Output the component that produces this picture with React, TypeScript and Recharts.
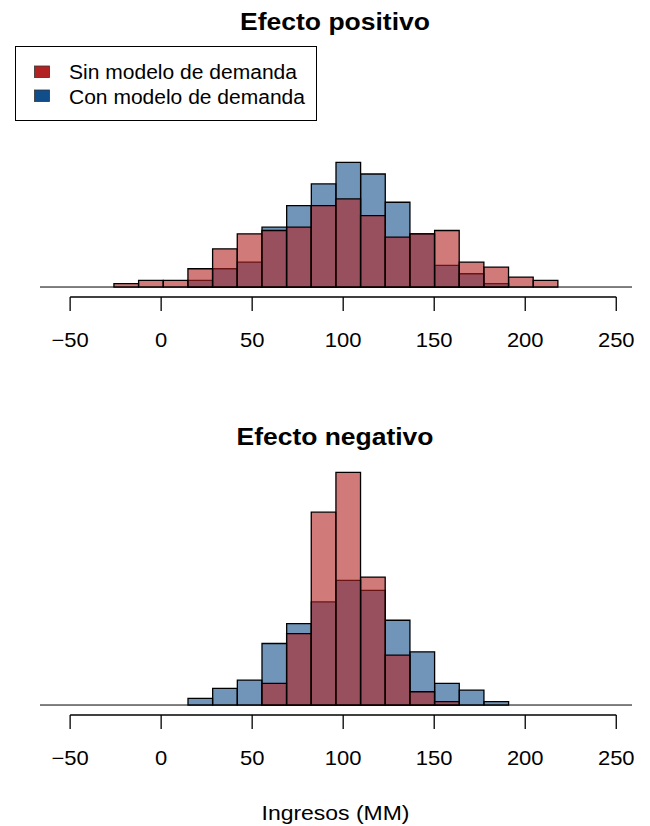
import React from "react"
import { ComposedChart, Bar, XAxis, YAxis, ReferenceLine } from "recharts"

// histogram bins (Ingresos MM), width ~13.55
const binMids = [-59.8, -46.2, -32.7, -19.1, -5.6, 8.0, 21.5, 35.1, 48.6, 62.2, 75.7, 89.3,
  102.8, 116.4, 129.9, 143.5, 157.0, 170.6, 184.1, 197.7, 211.2, 224.8, 238.3, 251.9]
const binRange = [-66.55, 258.65]
const xTicks = [-50, 0, 50, 100, 150, 200, 250]

// counts per bin
const positivoSin = [0, 0, 0, 2, 4, 4, 11, 23, 32, 34, 36, 49, 53, 43, 30, 32, 34, 15, 12, 6, 4, 0, 0, 0]
const positivoCon = [0, 0, 0, 0, 0, 0, 4, 11, 15, 36, 49, 62, 75, 68, 51, 32, 13, 8, 2, 0, 0, 0, 0, 0]
const negativoSin = [0, 0, 0, 0, 0, 0, 0, 0, 0, 13, 43, 116, 140, 77, 30, 8, 2, 0, 0, 0, 0, 0, 0, 0]
const negativoCon = [0, 0, 0, 0, 0, 0, 4, 10, 15, 37, 49, 62, 75, 69, 51, 32, 13, 9, 2, 0, 0, 0, 0, 0]

const yDomain = [-6, 145]

const FONT = '"Liberation Sans", Arial, Helvetica, sans-serif'
const RED = "#b22222"
const BLUE = "#104e8b"

const fmt = (v: number) => (v < 0 ? "\u2212" + Math.abs(v) : String(v))

const Tick = (props: any) => {
  const { x, y, payload } = props
  return (
    <text
      transform={`translate(${x} ${y}) scale(1.1 1)`}
      dy="0.71em"
      textAnchor="middle"
      fontSize={20}
      fontFamily={FONT}
      fill="#000"
    >
      {fmt(payload.value)}
    </text>
  )
}

const Histogram = ({ sin, con }: { sin: number[], con: number[] }) => {
  const data = binMids.map((mid, i) => ({ mid, sin: sin[i], con: con[i] }))
  return (
    <ComposedChart
      width={650}
      height={357}
      data={data}
      margin={{ top: 46, right: 18, bottom: 0, left: 40 }}
      barGap="-100%"
      barCategoryGap={0}
    >
      <XAxis xAxisId="bins" dataKey="mid" type="category" hide height={0} />
      <XAxis
        xAxisId="num"
        dataKey="mid"
        type="number"
        domain={binRange}
        allowDataOverflow
        ticks={xTicks}
        interval={0}
        axisLine={false}
        tickLine={{ stroke: "#000", strokeWidth: 1.3 }}
        tickSize={14}
        tickMargin={22}
        tick={<Tick />}
        height={60}
      />
      <YAxis type="number" domain={yDomain} allowDataOverflow hide />
      <Bar xAxisId="bins" dataKey="con" fill={BLUE} fillOpacity={0.6} stroke="#000" strokeWidth={1.3} barSize={24.6} isAnimationActive={false} />
      <Bar xAxisId="bins" dataKey="sin" fill={RED} fillOpacity={0.6} stroke="#000" strokeWidth={1.3} barSize={24.6} isAnimationActive={false} />
      <ReferenceLine
        xAxisId="num"
        segment={[{ x: binRange[0], y: 0 }, { x: binRange[1], y: 0 }]}
        stroke="#000"
        strokeWidth={1}
        ifOverflow="visible"
      />
      <ReferenceLine
        xAxisId="num"
        segment={[{ x: xTicks[0], y: yDomain[0] }, { x: xTicks[xTicks.length - 1], y: yDomain[0] }]}
        stroke="#000"
        strokeWidth={1.4}
        ifOverflow="visible"
      />
    </ComposedChart>
  )
}

export default function App() {
  return (
    <div style={{ position: "absolute", left: 0, top: 0, width: 650, height: 826, background: "#fff", fontFamily: FONT }}>
      <div style={{ position: "absolute", left: 0, top: 0 }}>
        <Histogram sin={positivoSin} con={positivoCon} />
      </div>
      <div style={{ position: "absolute", left: 0, top: 418 }}>
        <Histogram sin={negativoSin} con={negativoCon} />
      </div>
      <svg width={650} height={826} style={{ position: "absolute", left: 0, top: 0, pointerEvents: "none" }}>
        <text x={335} y={30} textAnchor="middle" fontSize={23.5} fontWeight="bold" fontFamily={FONT} textLength={190} lengthAdjust="spacingAndGlyphs">
          Efecto positivo
        </text>
        <text x={335} y={445} textAnchor="middle" fontSize={23.5} fontWeight="bold" fontFamily={FONT} textLength={197} lengthAdjust="spacingAndGlyphs">
          Efecto negativo
        </text>
        <text x={335.5} y={820} textAnchor="middle" fontSize={20} fontFamily={FONT} textLength={148} lengthAdjust="spacingAndGlyphs">
          Ingresos (MM)
        </text>
        <rect x={15.5} y={46.5} width={301} height={74} fill="none" stroke="#000" strokeWidth={1} />
        <rect x={34.5} y={66} width={15} height={11.5} fill={RED} stroke="#333" strokeWidth={0.8} />
        <rect x={34.5} y={90} width={15} height={11.5} fill={BLUE} stroke="#333" strokeWidth={0.8} />
        <text x={69} y={79} fontSize={19.5} fontFamily={FONT} textLength={228} lengthAdjust="spacingAndGlyphs">
          Sin modelo de demanda
        </text>
        <text x={69} y={104} fontSize={19.5} fontFamily={FONT} textLength={236} lengthAdjust="spacingAndGlyphs">
          Con modelo de demanda
        </text>
      </svg>
    </div>
  )
}
